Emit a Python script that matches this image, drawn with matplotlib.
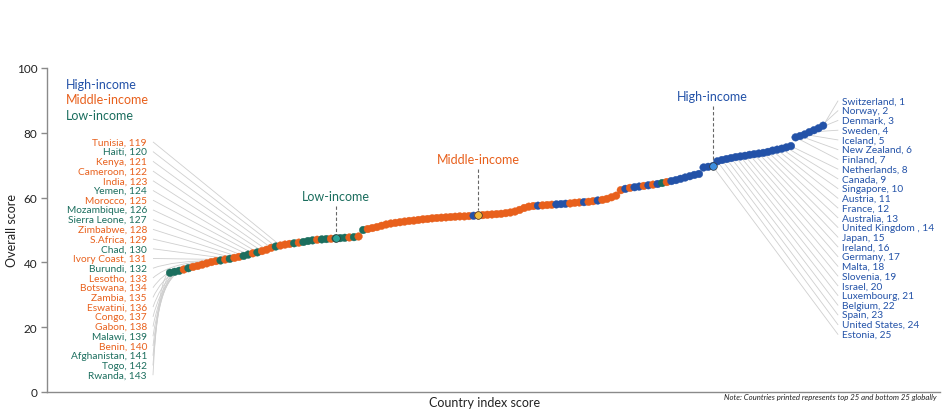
import numpy as np
import matplotlib.pyplot as plt
from matplotlib.path import Path
from matplotlib.patches import PathPatch

plt.rcParams['font.family'] = ['Lato', 'DejaVu Sans']

# overall score of every country, sorted from rank 143 (lowest) to rank 1
scores = [
    36.8, 37.1, 37.4, 37.8, 38.2, 38.6, 38.9, 39.3, 39.7, 40.1,
    40.4, 40.6, 40.9, 41.1, 41.4, 41.7, 42.0, 42.4, 42.8, 43.1,
    43.5, 43.9, 44.5, 44.9, 45.2, 45.5, 45.7, 45.9, 46.1, 46.3,
    46.6, 46.8, 47.0, 47.1, 47.2, 47.3, 47.4, 47.5, 47.6, 47.7,
    47.8, 48.0, 50.0, 50.3, 50.6, 50.9, 51.3, 51.7, 52.0, 52.2,
    52.4, 52.6, 52.8, 52.9, 53.1, 53.3, 53.4, 53.6, 53.7, 53.8,
    53.9, 54.0, 54.1, 54.2, 54.2, 54.3, 54.4, 54.5, 54.6, 54.7,
    54.8, 54.9, 55.0, 55.2, 55.4, 55.7, 56.2, 56.8, 57.2, 57.4,
    57.5, 57.6, 57.7, 57.8, 57.9, 58.0, 58.1, 58.2, 58.4, 58.5,
    58.6, 58.7, 58.9, 59.1, 59.3, 59.6, 60.1, 60.6, 62.3, 62.7,
    63.0, 63.2, 63.4, 63.6, 63.8, 64.0, 64.2, 64.5, 64.8, 65.1,
    65.4, 65.8, 66.2, 66.6, 67.0, 67.3, 69.3, 69.5, 69.7, 71.2,
    71.6, 71.9, 72.2, 72.5, 72.7, 72.9, 73.2, 73.4, 73.6, 73.8,
    74.1, 74.5, 74.8, 75.1, 75.5, 75.9, 78.6, 79.0, 79.5, 80.2,
    80.8, 81.4, 82.2,
]
# income group of each country (L low, M middle, H high), same order
groups = ("LLLMLMMMMMMLMLMMLLMLMMMLM"
          "MMLMLLLMLLMLLLMLMLM"
          "MMMMMMMMMMMMMMMMMMMMMM"
          "HM"
          "MMMMMMMMMMMM"
          "HMMMHHHMMMHMMHMMMMMHMHHMHMHLM"
          "HHHHHHHHHHHHHHHHHHHHHHHHHHHHHHHHHH")
# the three highlighted group markers (index in the sorted list)
highlight_idx = {'L': 36, 'M': 67, 'H': 118}

bottom_names = ['Tunisia', 'Haiti', 'Kenya', 'Cameroon', 'India', 'Yemen', 'Morocco',
                'Mozambique', 'Sierra Leone', 'Zimbabwe', 'S.Africa', 'Chad',
                'Ivory Coast', 'Burundi', 'Lesotho', 'Botswana', 'Zambia', 'Eswatini',
                'Congo', 'Gabon', 'Malawi', 'Benin', 'Afghanistan', 'Togo', 'Rwanda']
bottom_ranks = list(range(119, 144))
top_names = ['Switzerland', 'Norway', 'Denmark', 'Sweden', 'Iceland', 'New Zealand',
             'Finland', 'Netherlands', 'Canada', 'Singapore', 'Austria', 'France',
             'Australia', 'United Kingdom ', 'Japan', 'Ireland', 'Germany', 'Malta',
             'Slovenia', 'Israel', 'Luxembourg', 'Belgium', 'Spain', 'United States',
             'Estonia']
top_ranks = list(range(1, 26))

colors = {'H': '#2352a8', 'M': '#e8601c', 'L': '#1b6e5e'}
hl_colors = {'H': '#3d8ee0', 'M': '#f2b93b', 'L': '#2aa496'}
names = {'H': 'High-income', 'M': 'Middle-income', 'L': 'Low-income'}
line_gray = '#cfcfcf'

n = len(scores)
xs = np.arange(n)

fig = plt.figure(figsize=(9.44, 4.1), dpi=100)
ax = fig.add_axes([47 / 944, 17 / 410, 893 / 944, 324 / 410])
ax.set_xlim(-26.74, 167.4)
ax.set_ylim(0, 100)

# points
pt_cols = [colors[g] for g in groups]
ax.scatter(xs, scores, s=30, c=pt_cols, edgecolors=pt_cols, linewidths=0.3, zorder=3)
for g, i in highlight_idx.items():
    ax.scatter([i], [scores[i]], s=30, c=hl_colors[g], edgecolors='#333333',
               linewidths=0.5, zorder=4)

# bottom 25 labels on the left
lab_x = -5.0
line_x0 = -3.7
left_y = 77.2 - 3.0 * np.arange(len(bottom_names))
for k, (name, rank) in enumerate(zip(bottom_names, bottom_ranks)):
    i = n - rank
    g = groups[i]
    ax.text(lab_x, left_y[k], f'{name}, {rank}', ha='right', va='center',
            fontsize=7.3, color=colors[g])
    y0, x1, y1 = left_y[k], i, scores[i]
    if y0 >= y1 - 0.5:
        verts = [(line_x0, y0), (x1, y1)]
        codes = [Path.MOVETO, Path.LINETO]
    else:
        verts = [(line_x0, y0), (line_x0 + 0.3 * (x1 - line_x0), y1), (x1, y1)]
        codes = [Path.MOVETO, Path.CURVE3, Path.CURVE3]
    ax.add_patch(PathPatch(Path(verts, codes), fc='none', ec=line_gray, lw=0.6, zorder=1))

# top 25 labels on the right
rlab_x = 146.1
rline_x = 145.2
right_y = 89.8 - 3.0 * np.arange(len(top_names))
for k, (name, rank) in enumerate(zip(top_names, top_ranks)):
    i = n - rank
    ax.text(rlab_x, right_y[k], f'{name}, {rank}', ha='left', va='center',
            fontsize=7.3, color=colors['H'])
    ax.plot([i, rline_x], [scores[i], right_y[k]], color=line_gray, lw=0.6, zorder=1)

# legend
for k, g in enumerate(['H', 'M', 'L']):
    ax.text(-22.6, 95.1 - 4.8 * k, names[g], ha='left', va='center',
            fontsize=9, color=colors[g])

# group annotations with dashed pointer
ann_y = {'L': 60.5, 'M': 71.9, 'H': 91.4}
for g, i in highlight_idx.items():
    ax.text(i, ann_y[g], names[g], ha='center', va='center', fontsize=9, color=colors[g])
    ax.plot([i, i], [ann_y[g] - 3.2, scores[i] + 1.8], color='#666666',
            lw=0.8, ls=(0, (3, 2)), zorder=2)

# axes styling
for side in ['top', 'right']:
    ax.spines[side].set_visible(False)
for side in ['left', 'bottom']:
    ax.spines[side].set_color('#8a8a8a')
    ax.spines[side].set_linewidth(1.0)
ax.set_xticks([])
ax.set_yticks([0, 20, 40, 60, 80, 100])
ax.tick_params(axis='y', length=4, width=1, color='#8a8a8a', labelsize=8.5,
               labelcolor='#222222', pad=3)

fig.text(12 / 944, 1 - 231 / 410, 'Overall score', rotation=90, ha='center',
         va='center', fontsize=9, color='#222222')
fig.text(485 / 944, 1 - 403 / 410, 'Country index score', ha='center', va='center',
         fontsize=9, color='#222222')
fig.text(937 / 944, 1 - 398 / 410,
         'Note: Countries printed represents top 25 and bottom 25 globally',
         ha='right', va='center', fontsize=5.6, style='italic', color='#222222')

fig.savefig('out.png', dpi=100)
